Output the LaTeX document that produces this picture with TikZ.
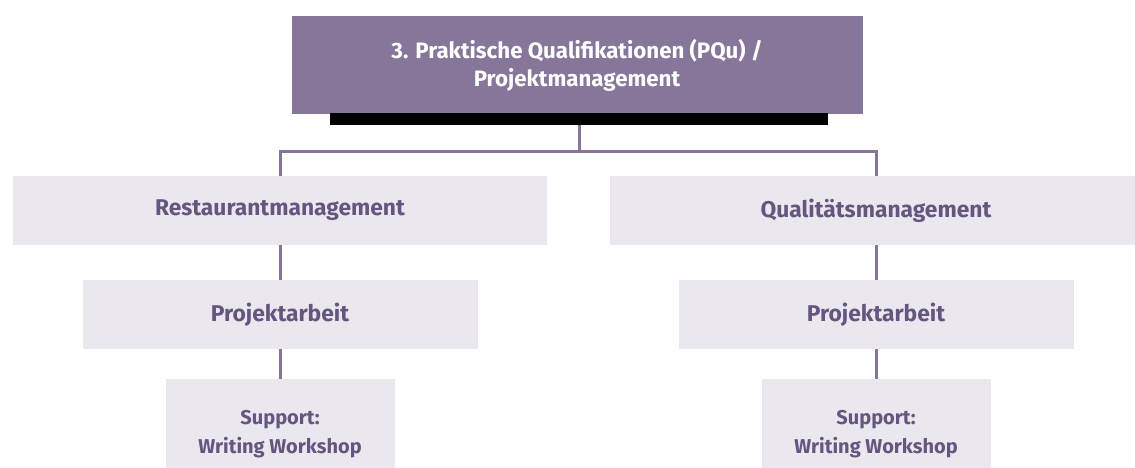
\documentclass[tikz,border=0pt]{standalone}
\usepackage{fontspec}
\setmainfont{Fira Sans}
\usepackage{xcolor}
\usepackage{tikz}
\usetikzlibrary{positioning,calc}
\definecolor{headpurple}{RGB}{134,118,153}
\definecolor{boxlilac}{RGB}{234,231,239}
\definecolor{textpurple}{RGB}{101,86,127}
\definecolor{linepurple}{RGB}{133,118,152}

\begin{document}
\begin{tikzpicture}[
    x=1pt, y=-1pt,
    head/.style={rectangle, fill=headpurple, minimum width=571pt, minimum height=98pt, font=\fontsize{22.3}{28}\selectfont\bfseries, text=white, align=center, inner sep=0pt},
    lvlbox/.style={rectangle, fill=boxlilac, minimum height=69pt, font=\fontsize{22.8}{28}\selectfont\bfseries, text=textpurple, align=center, inner sep=0pt},
    supbox/.style={rectangle, fill=boxlilac, minimum width=229pt, minimum height=111pt, font=\fontsize{20}{29}\selectfont\bfseries, text=textpurple, align=center, inner sep=0pt},
    link/.style={draw=linepurple, line width=3pt}
]
\useasboundingbox (0,0) rectangle (1135,468);

\node[head] (top) at (577, 65) {3. Praktische Qualifikationen (PQu) /\\Projektmanagement};
\node[rectangle, fill=black, minimum width=498pt, minimum height=12pt, inner sep=0pt] (bar) at (579, 119) {};
\coordinate (hub) at (579, 152);

\node[lvlbox, minimum width=534pt] (rest) at (280, 210.5) {Restaurantmanagement};
\node[lvlbox, minimum width=532pt] (qual) at (876, 210.5) {Qualitätsmanagement};
\node[lvlbox, minimum width=395pt] (projl) at (280, 314.5) {Projektarbeit};
\node[lvlbox, minimum width=395pt] (projr) at (876, 314.5) {Projektarbeit};
\node[supbox] (supl) at (280, 434.5) {Support:\\Writing Workshop};
\node[supbox] (supr) at (876, 434.5) {Support:\\Writing Workshop};

\draw[link] (bar.south) -- (hub);
\draw[link] (hub) -| (rest.north);
\draw[link] (hub) -| (qual.north);
\draw[link] (rest) -- (projl);
\draw[link] (projl) -- (supl);
\draw[link] (qual) -- (projr);
\draw[link] (projr) -- (supr);
\end{tikzpicture}
\end{document}
